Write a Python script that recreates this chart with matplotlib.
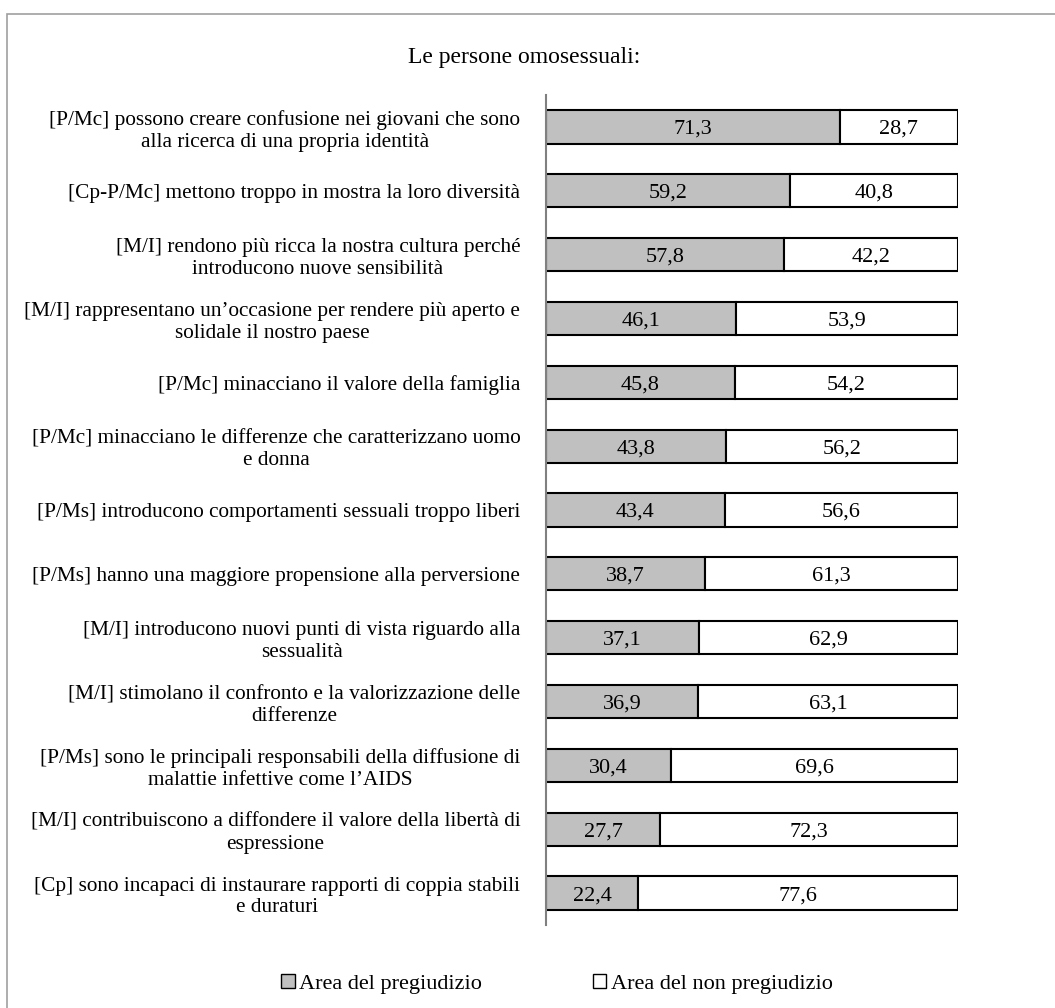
import matplotlib
matplotlib.use('Agg')
import matplotlib.pyplot as plt
from matplotlib.patches import Rectangle, Patch

plt.rcParams['font.family'] = ['Liberation Serif', 'DejaVu Serif']

# ===== DATI =====
labels = [
    "[P/Mc] possono creare confusione nei giovani che sono\nalla ricerca di una propria identità",
    "[Cp-P/Mc] mettono troppo in mostra la loro diversità",
    "[M/I] rendono più ricca la nostra cultura perché\nintroducono nuove sensibilità",
    "[M/I] rappresentano un\u2019occasione per rendere più aperto e\nsolidale il nostro paese",
    "[P/Mc] minacciano il valore della famiglia",
    "[P/Mc] minacciano le differenze che caratterizzano uomo\ne donna",
    "[P/Ms] introducono comportamenti sessuali troppo liberi",
    "[P/Ms] hanno una maggiore propensione alla perversione",
    "[M/I] introducono nuovi punti di vista riguardo alla\nsessualità",
    "[M/I] stimolano il confronto e la valorizzazione delle\ndifferenze",
    "[P/Ms] sono le principali responsabili della diffusione di\nmalattie infettive come l\u2019AIDS",
    "[M/I] contribuiscono a diffondere il valore della libertà di\nespressione",
    "[Cp] sono incapaci di instaurare rapporti di coppia stabili\ne duraturi",
]
pregiudizio = [71.3, 59.2, 57.8, 46.1, 45.8, 43.8, 43.4, 38.7, 37.1, 36.9, 30.4, 27.7, 22.4]
non_pregiudizio = [28.7, 40.8, 42.2, 53.9, 54.2, 56.2, 56.6, 61.3, 62.9, 63.1, 69.6, 72.3, 77.6]

GRAY = '#c0c0c0'

fig = plt.figure(figsize=(10.55, 10.08), dpi=100)
ax = fig.add_axes([546/1055, 1-925/1008, 412/1055, 830/1008])

y = list(range(len(labels)))
ax.barh(y, pregiudizio, height=0.52, color=GRAY, edgecolor='black', linewidth=1.5)
ax.barh(y, non_pregiudizio, left=pregiudizio, height=0.52, color='white',
        edgecolor='black', linewidth=1.5)

for i in y:
    p = pregiudizio[i]
    n = non_pregiudizio[i]
    ax.text(p/2, i, f"{p:.1f}".replace('.', ','), ha='center', va='center_baseline', fontsize=16)
    ax.text(p + n/2, i, f"{n:.1f}".replace('.', ','), ha='center', va='center_baseline', fontsize=16)

ax.set_xlim(0, 100)
ax.set_ylim(len(labels)-0.5, -0.5)
ax.set_yticks(y)
ax.set_yticklabels(labels, fontsize=15.3, multialignment='center', linespacing=1.2)
ax.tick_params(axis='y', length=0, pad=18.5)
ax.set_xticks([])
for s in ['top', 'right', 'bottom']:
    ax.spines[s].set_visible(False)
ax.spines['left'].set_color('#808080')
ax.spines['left'].set_linewidth(1.5)

fig.text(524/1055, 1-57/1008, "Le persone omosessuali:", ha='center', va='center', fontsize=17)

handles = [Patch(facecolor=GRAY, edgecolor='black', label='Area del pregiudizio'),
           Patch(facecolor='white', edgecolor='black', label='Area del non pregiudizio')]
fig.legend(handles=handles, loc='center', bbox_to_anchor=(557/1055, 1-984/1008), ncol=2,
           frameon=False, fontsize=16, handlelength=0.6, handleheight=0.6,
           handletextpad=0.2, columnspacing=5)

# cornice esterna
fig.add_artist(Rectangle((7/1055, -0.05), 1.1, 1-14/1008+0.05, transform=fig.transFigure,
                         fill=False, edgecolor='#a0a0a0', linewidth=1.2))

fig.savefig('out.png', dpi=100)
